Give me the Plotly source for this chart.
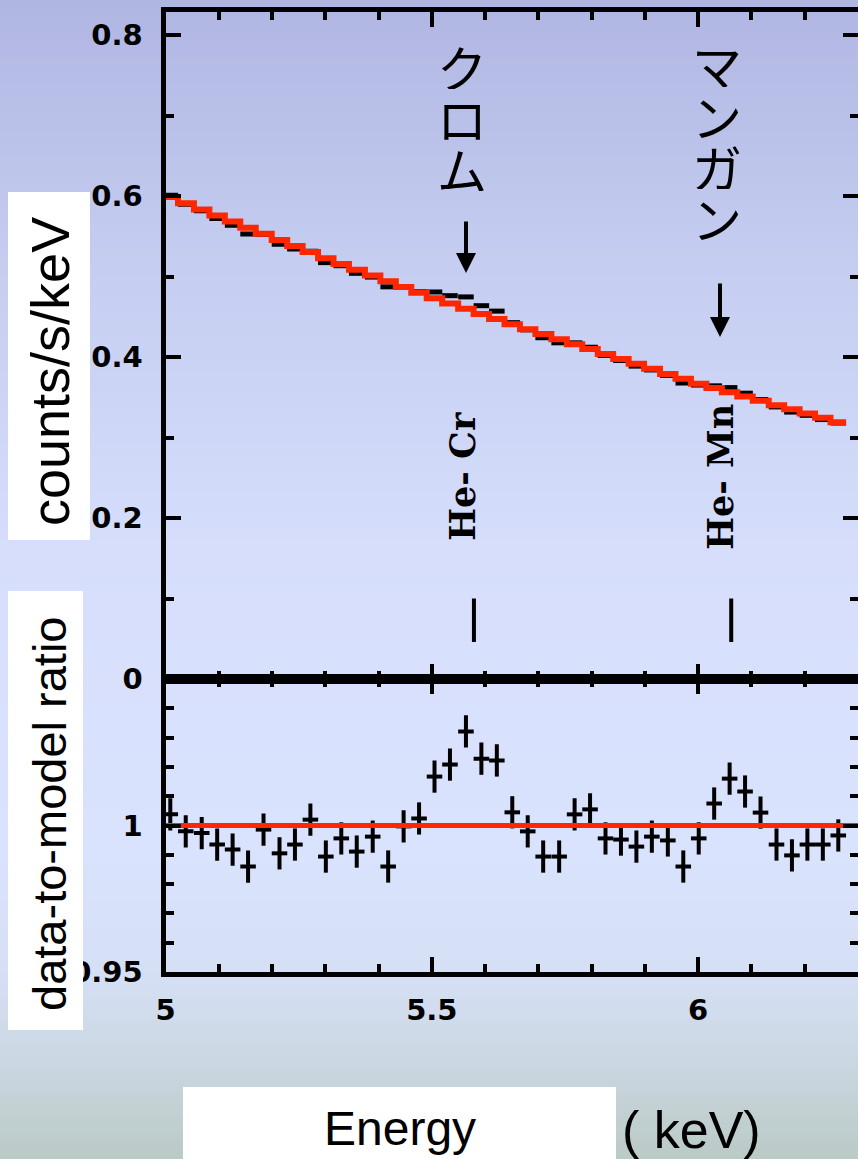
import plotly.graph_objects as go

# ---- spectrum data (5-6.3 keV band) ----
energy_kev = [5.009, 5.038, 5.068, 5.097, 5.126, 5.155, 5.184, 5.214, 5.243, 5.272,
              5.301, 5.330, 5.359, 5.389, 5.418, 5.447, 5.476, 5.505, 5.534, 5.564,
              5.593, 5.622, 5.651, 5.680, 5.709, 5.739, 5.768, 5.797, 5.826, 5.855,
              5.884, 5.913, 5.943, 5.972, 6.001, 6.030, 6.059, 6.088, 6.117, 6.147,
              6.176, 6.205, 6.234, 6.263]
half_bin_kev = 0.0146

# continuum model, counts/s/keV
model_counts = [0.5987, 0.5911, 0.5833, 0.5758, 0.5682, 0.5607, 0.5532, 0.5454, 0.5378, 0.5303,
                0.5228, 0.5157, 0.5085, 0.5012, 0.4941, 0.4870, 0.4799, 0.4729, 0.4665, 0.4599,
                0.4534, 0.4471, 0.4407, 0.4346, 0.4285, 0.4221, 0.4160, 0.4099, 0.4037, 0.3976,
                0.3915, 0.3854, 0.3790, 0.3729, 0.3668, 0.3615, 0.3563, 0.3510, 0.3457, 0.3402,
                0.3350, 0.3297, 0.3244, 0.3191]

# data / model
ratio = [1.0038, 0.9980, 0.9974, 0.9935, 0.9918, 0.9860, 0.9986, 0.9905, 0.9935, 1.0020,
         0.9894, 0.9956, 0.9911, 0.9962, 0.9860, 0.9997, 1.0024, 1.0167, 1.0208, 1.0321,
         1.0228, 1.0222, 1.0045, 0.9980, 0.9894, 0.9894, 1.0038, 1.0055, 0.9956, 0.9952,
         0.9928, 0.9962, 0.9949, 0.9860, 0.9956, 1.0075, 1.0160, 1.0116, 1.0044, 0.9935,
         0.9898, 0.9935, 0.9935, 0.9966]
ratio_err = 0.0055

# He-like line positions and their tick marks
line_energy_kev = [5.579, 6.062]
line_labels = ["He- Cr", "He- Mn"]
line_mark_counts = [0.046, 0.100]

x_ticks = [5, 5.5, 6]
x_tick_text = ["5", "5.5", "6"]
top_ticks = [0, 0.2, 0.4, 0.6, 0.8]
top_tick_text = ["0", "0.2", "0.4", "0.6", "0.8"]
ratio_ticks = [0.95, 1.0]
ratio_tick_text = ["0.95", "1"]

W, H = 858, 1159
RED = "rgb(255,38,0)"


def px_x(p):
    return p / W


def px_y(p):
    return 1 - p / H


data_counts = [m * r for m, r in zip(model_counts, ratio)]
data_err = [m * ratio_err * 0.4 for m in model_counts]
step_x = [e - half_bin_kev for e in energy_kev] + [energy_kev[-1] + half_bin_kev]
step_y = model_counts + [model_counts[-1]]

fig = go.Figure()

# upper panel: measured spectrum and model
fig.add_trace(go.Scatter(
    x=energy_kev, y=data_counts, mode="markers",
    marker=dict(size=1, color="black"),
    error_x=dict(type="constant", value=half_bin_kev, thickness=5, width=0, color="black"),
    error_y=dict(type="data", array=data_err, thickness=4, width=0, color="black"),
    xaxis="x", yaxis="y", showlegend=False, hoverinfo="skip"))
fig.add_trace(go.Scatter(
    x=step_x, y=step_y, mode="lines", line=dict(color=RED, width=6, shape="hv"),
    xaxis="x", yaxis="y", showlegend=False, hoverinfo="skip"))
for e in line_energy_kev:
    fig.add_trace(go.Scatter(
        x=[e, e], y=line_mark_counts, mode="lines", line=dict(color="black", width=4),
        xaxis="x", yaxis="y", showlegend=False, hoverinfo="skip"))

# lower panel: ratio
fig.add_trace(go.Scatter(
    x=energy_kev, y=ratio, mode="markers",
    marker=dict(size=1, color="black"),
    error_x=dict(type="constant", value=half_bin_kev, thickness=4, width=0, color="black"),
    error_y=dict(type="constant", value=ratio_err, thickness=4, width=0, color="black"),
    xaxis="x2", yaxis="y2", showlegend=False, hoverinfo="skip"))
fig.add_trace(go.Scatter(
    x=[5.0, 6.3], y=[1.0, 1.0], mode="lines", line=dict(color=RED, width=5),
    xaxis="x2", yaxis="y2", showlegend=False, hoverinfo="skip"))

tick_font = dict(family="DejaVu Sans", size=29, color="black", weight="bold")
axis_common = dict(
    showline=True, linewidth=5, linecolor="black", mirror="allticks",
    ticks="inside", ticklen=15, tickwidth=4, tickcolor="black",
    showgrid=False, zeroline=False, tickfont=tick_font, fixedrange=True,
    automargin=False,
)
x_dom = [px_x(165.5), 1.0]

fig.update_layout(
    template="none",
    width=W, height=H, autosize=False,
    margin=dict(l=0, r=0, t=0, b=0, pad=0, autoexpand=False),
    paper_bgcolor="rgb(214,222,250)", plot_bgcolor="rgba(0,0,0,0)",
    xaxis=dict(domain=x_dom, range=[5.0, 6.3], anchor="y", tickvals=x_ticks,
               showticklabels=False,
               minor=dict(dtick=0.1, tick0=5, ticks="inside", ticklen=8, tickwidth=4,
                          tickcolor="black"),
               **axis_common),
    yaxis=dict(domain=[px_y(679), px_y(12)], range=[0, 0.8286], anchor="x",
               tickvals=top_ticks, ticktext=top_tick_text, ticklabelstandoff=12,
               minor=dict(dtick=0.1, tick0=0, ticks="inside", ticklen=8, tickwidth=4,
                          tickcolor="black"),
               **axis_common),
    xaxis2=dict(domain=x_dom, range=[5.0, 6.3], anchor="y2", tickvals=x_ticks,
                ticktext=x_tick_text, ticklabelstandoff=8,
                minor=dict(dtick=0.1, tick0=5, ticks="inside", ticklen=8, tickwidth=4,
                           tickcolor="black"),
                **axis_common),
    yaxis2=dict(domain=[px_y(972), px_y(679)], range=[0.95, 1.05], anchor="x2",
                tickvals=ratio_ticks, ticktext=ratio_tick_text, ticklabelstandoff=12,
                minor=dict(dtick=0.01, tick0=0.95, ticks="inside", ticklen=8, tickwidth=4,
                           tickcolor="black"),
                **axis_common),
)

# slide background: vertical colour gradient
stops = [(0, (176, 182, 226)), (250, (196, 204, 240)), (550, (214, 222, 252)),
         (850, (218, 227, 253)), (980, (213, 223, 244)), (1060, (203, 215, 226)),
         (1159, (186, 202, 198))]


def grad(p):
    for (p0, c0), (p1, c1) in zip(stops[:-1], stops[1:]):
        if p0 <= p <= p1:
            t = (p - p0) / (p1 - p0)
            return "rgb(%d,%d,%d)" % tuple(round(a + (b - a) * t) for a, b in zip(c0, c1))
    return "rgb(%d,%d,%d)" % stops[-1][1]


shapes = []
band = 6
for top in range(0, H, band):
    y_lo = px_y(min(top + band, H)) if top + band < H else -0.05
    y_hi = px_y(top) if top > 0 else 1.05
    shapes.append(dict(type="rect", xref="paper", yref="paper", layer="below",
                       x0=-0.05, x1=1.05, y0=y_lo, y1=y_hi,
                       fillcolor=grad(top + band / 2), line=dict(width=0)))

# white label boxes
for x0, y0, x1, y1 in [(8, 192, 90, 540), (8, 591, 83, 1030), (183, 1087, 616, 1159)]:
    shapes.append(dict(type="rect", xref="paper", yref="paper", layer="above",
                       x0=px_x(x0), x1=px_x(x1), y0=px_y(y1), y1=px_y(y0),
                       fillcolor="white", line=dict(width=0)))
fig.update_layout(shapes=shapes)

ann = []


def label(text, xc, yc, **kw):
    ann.append(dict(text=text, x=px_x(xc), y=px_y(yc), xref="paper", yref="paper",
                    showarrow=False, xanchor="center", yanchor="middle", **kw))


# element names written vertically, one character per row
jp_font = dict(family="Noto Sans CJK JP", size=50, color="black")
for chars, xc, y_first in [("クロム", 462, 66), ("マンガン", 717, 64)]:
    for k, ch in enumerate(chars):
        label(ch, xc, y_first + 51 * k, font=jp_font, height=46, borderpad=0)

# arrows pointing at the lines
for xc, y_tail, y_tip in [(466, 220, 273), (720, 282, 337)]:
    ann.append(dict(text="", x=px_x(xc), y=px_y(y_tip), xref="paper", yref="paper",
                    ax=0, ay=-(y_tip - y_tail), showarrow=True, arrowhead=2,
                    arrowsize=1, arrowwidth=4, arrowcolor="black", standoff=0))

# rotated line labels
for lab, xc in zip(line_labels, [463, 721]):
    label("<b>%s</b>" % lab, xc, 477, textangle=-90,
          font=dict(family="DejaVu Serif", size=35, color="black"))

title_font = dict(family="Liberation Sans", color="black")
label("counts/s/keV", 50, 372, textangle=-90, font=dict(size=54, **title_font))
label("data-to-model ratio", 49, 814, textangle=-90, font=dict(size=47, **title_font))
label("Energy", 400, 1128, font=dict(size=48, **title_font))
label("( keV)", 691, 1130, font=dict(size=52, **title_font))
fig.update_layout(annotations=ann)

fig.write_html("out.html")
